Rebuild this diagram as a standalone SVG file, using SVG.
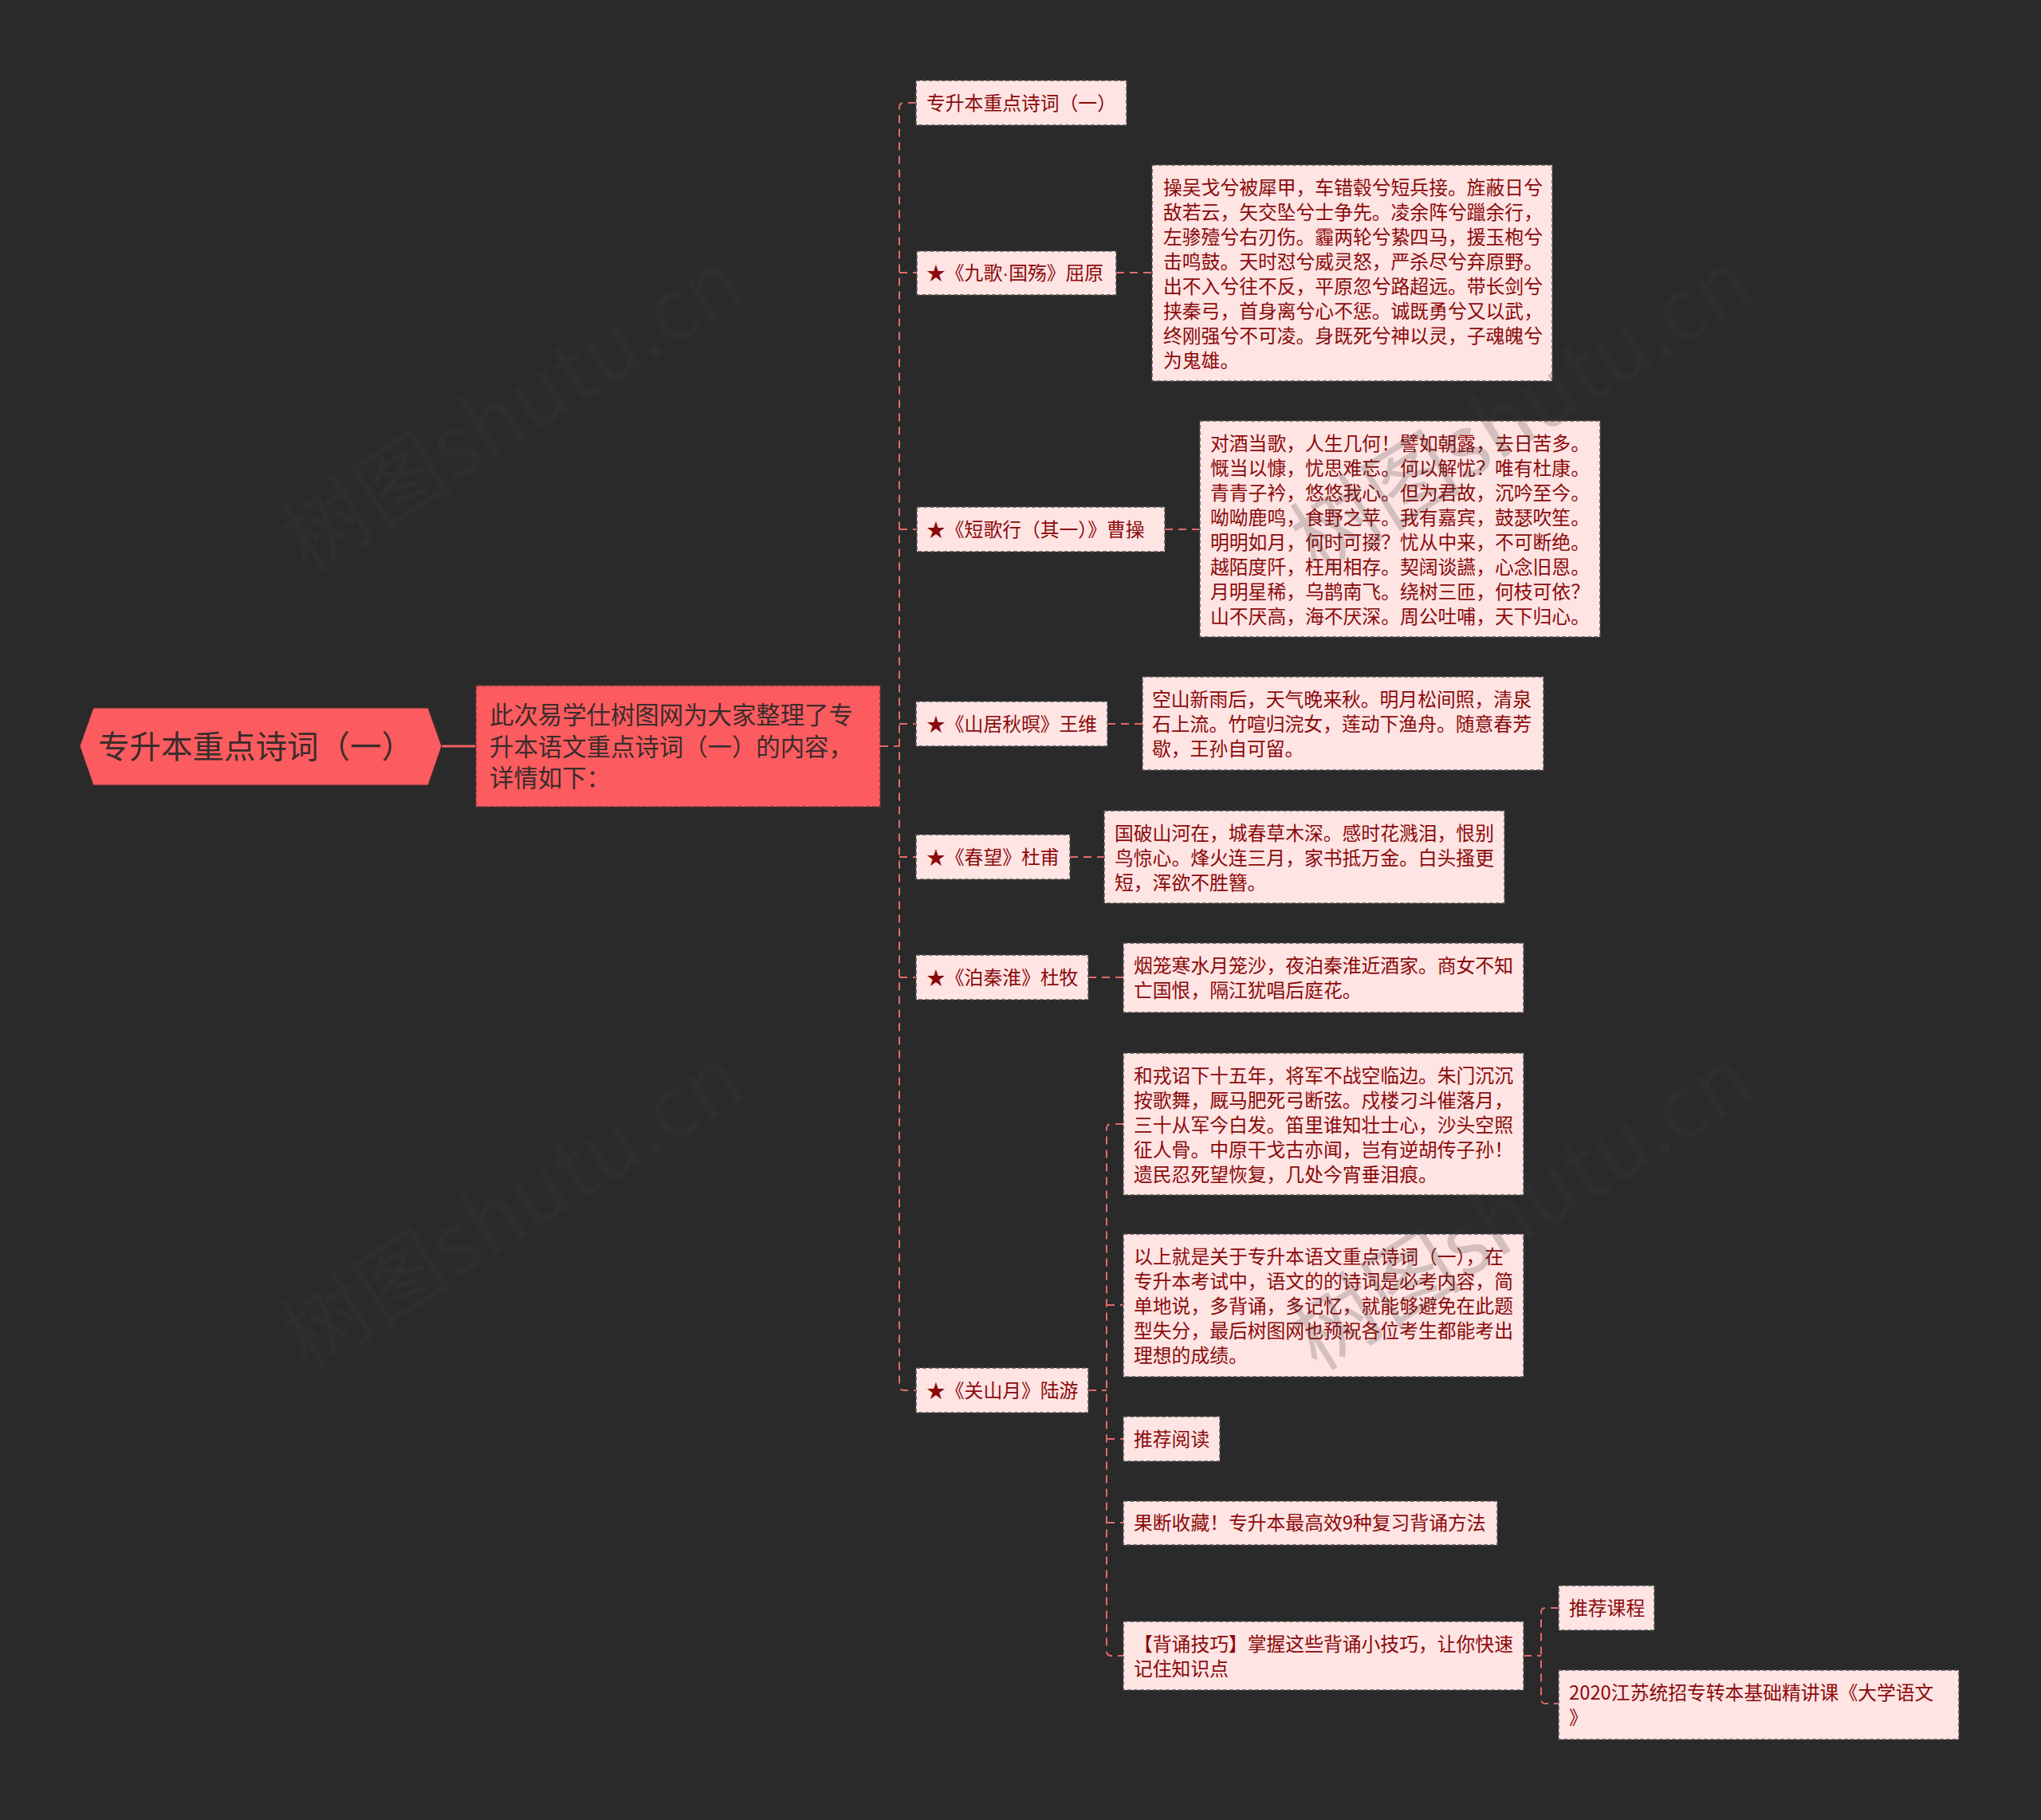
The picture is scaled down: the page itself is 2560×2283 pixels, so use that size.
<svg xmlns="http://www.w3.org/2000/svg" width="2560" height="2283" viewBox="0 0 2560 2283">
<style>
.box{fill:#ffe4e4;stroke:#5a5050;stroke-width:1.5;stroke-dasharray:5 3}
.t{fill:#8b0a0a;font-family:"Noto Sans CJK SC","Noto Sans",sans-serif;font-size:23.8px}
.conn{fill:none;stroke:#e36a6a;stroke-width:2;stroke-dasharray:10 7}
.wm{fill:#404040;opacity:0.22;font-family:"Noto Sans CJK SC","Noto Sans",sans-serif;font-size:108px}
</style>
<rect x="0" y="0" width="2560" height="2283" fill="#2a2a2a"/>
<g id="connectors">
<line x1="554" y1="936" x2="597" y2="936" stroke="#f06262" stroke-width="3"/>
<path class="conn" d="M1104 936 H1128"/>
<path class="conn" d="M1149 129 H1134 Q1128 129 1128 135 V1738 Q1128 1744 1134 1744 H1149"/>
<path class="conn" d="M1128 342 H1150 M1128 664 H1150 M1128 908 H1149 M1128 1075 H1149 M1128 1226 H1149"/>
<path class="conn" d="M1400 342 H1445 M1461 664 H1505 M1389 908 H1433 M1342 1075 H1385 M1365 1226 H1409"/>
<path class="conn" d="M1365 1744 H1388"/>
<path class="conn" d="M1409 1410 H1394 Q1388 1410 1388 1416 V2071 Q1388 2077 1394 2077 H1409"/>
<path class="conn" d="M1388 1637 H1409 M1388 1805 H1409 M1388 1910 H1409"/>
<path class="conn" d="M1911 2077 H1933"/>
<path class="conn" d="M1955 2017 H1939 Q1933 2017 1933 2023 V2131 Q1933 2137 1939 2137 H1955"/>
</g>
<g id="root">
<polygon points="100,936 117,888 537,888 554,936 537,985 117,985" fill="#fc5b5f" stroke="#3a2a2a" stroke-width="1"/>
<text x="123" y="951" fill="#3a2c2c" font-family="'Noto Sans CJK SC','Noto Sans',sans-serif" font-size="39.5px">专升本重点诗词（一）</text>
</g>
<g id="intro">
<rect x="597" y="860" width="507" height="152" fill="#fc5b5f" stroke="#6a3434" stroke-width="1.5" stroke-dasharray="5 3"/>
<text fill="#3a2c2c" font-family="'Noto Sans CJK SC','Noto Sans',sans-serif" font-size="30.4px"><tspan x="614" y="908">此次易学仕树图网为大家整理了专</tspan><tspan x="614" y="948">升本语文重点诗词（一）的内容，</tspan><tspan x="614" y="987">详情如下：</tspan></text>
</g>
<g id="n1">
<rect class="box" x="1149" y="101" width="264" height="56"/>
<text class="t" x="1162" y="138">专升本重点诗词（一）</text>
</g>
<g id="n2">
<rect class="box" x="1150" y="315" width="250" height="55"/>
<text class="t" x="1162" y="351">★《九歌<tspan font-family="'Liberation Sans',sans-serif">·</tspan>国殇》屈原</text>
</g>
<g id="n2c">
<rect class="box" x="1445" y="207" width="502" height="271"/>
<text class="t"><tspan x="1459" y="244">操吴戈兮被犀甲，车错毂兮短兵接。旌蔽日兮</tspan><tspan x="1459" y="275">敌若云，矢交坠兮士争先。凌余阵兮躐余行，</tspan><tspan x="1459" y="306">左骖殪兮右刃伤。霾两轮兮絷四马，援玉枹兮</tspan><tspan x="1459" y="337">击鸣鼓。天时怼兮威灵怒，严杀尽兮弃原野。</tspan><tspan x="1459" y="368">出不入兮往不反，平原忽兮路超远。带长剑兮</tspan><tspan x="1459" y="399">挟秦弓，首身离兮心不惩。诚既勇兮又以武，</tspan><tspan x="1459" y="430">终刚强兮不可凌。身既死兮神以灵，子魂魄兮</tspan><tspan x="1459" y="461">为鬼雄。</tspan></text>
</g>
<g id="n3">
<rect class="box" x="1150" y="636" width="311" height="56"/>
<text class="t" x="1162" y="673">★《短歌行（其一）》曹操</text>
</g>
<g id="n3c">
<rect class="box" x="1505" y="528" width="502" height="271"/>
<text class="t"><tspan x="1518" y="565">对酒当歌，人生几何！譬如朝露，去日苦多。</tspan><tspan x="1518" y="596">慨当以慷，忧思难忘。何以解忧？唯有杜康。</tspan><tspan x="1518" y="627">青青子衿，悠悠我心。但为君故，沉吟至今。</tspan><tspan x="1518" y="658">呦呦鹿鸣，食野之苹。我有嘉宾，鼓瑟吹笙。</tspan><tspan x="1518" y="689">明明如月，何时可掇？忧从中来，不可断绝。</tspan><tspan x="1518" y="720">越陌度阡，枉用相存。契阔谈讌，心念旧恩。</tspan><tspan x="1518" y="751">月明星稀，乌鹊南飞。绕树三匝，何枝可依？</tspan><tspan x="1518" y="782">山不厌高，海不厌深。周公吐哺，天下归心。</tspan></text>
</g>
<g id="n4">
<rect class="box" x="1149" y="880" width="240" height="56"/>
<text class="t" x="1162" y="917">★《山居秋暝》王维</text>
</g>
<g id="n4c">
<rect class="box" x="1433" y="849" width="503" height="117"/>
<text class="t"><tspan x="1445" y="886">空山新雨后，天气晚来秋。明月松间照，清泉</tspan><tspan x="1445" y="917">石上流。竹喧归浣女，莲动下渔舟。随意春芳</tspan><tspan x="1445" y="948">歇，王孙自可留。</tspan></text>
</g>
<g id="n5">
<rect class="box" x="1149" y="1047" width="193" height="56"/>
<text class="t" x="1162" y="1084">★《春望》杜甫</text>
</g>
<g id="n5c">
<rect class="box" x="1385" y="1017" width="502" height="116"/>
<text class="t"><tspan x="1398" y="1054">国破山河在，城春草木深。感时花溅泪，恨别</tspan><tspan x="1398" y="1085">鸟惊心。烽火连三月，家书抵万金。白头搔更</tspan><tspan x="1398" y="1116">短，浑欲不胜簪。</tspan></text>
</g>
<g id="n6">
<rect class="box" x="1149" y="1198" width="216" height="56"/>
<text class="t" x="1162" y="1235">★《泊秦淮》杜牧</text>
</g>
<g id="n6c">
<rect class="box" x="1409" y="1183" width="502" height="87"/>
<text class="t"><tspan x="1422" y="1220">烟笼寒水月笼沙，夜泊秦淮近酒家。商女不知</tspan><tspan x="1422" y="1251">亡国恨，隔江犹唱后庭花。</tspan></text>
</g>
<g id="n7">
<rect class="box" x="1149" y="1716" width="216" height="56"/>
<text class="t" x="1162" y="1753">★《关山月》陆游</text>
</g>
<g id="n7a">
<rect class="box" x="1409" y="1321" width="502" height="178"/>
<text class="t"><tspan x="1422" y="1358">和戎诏下十五年，将军不战空临边。朱门沉沉</tspan><tspan x="1422" y="1389">按歌舞，厩马肥死弓断弦。戍楼刁斗催落月，</tspan><tspan x="1422" y="1420">三十从军今白发。笛里谁知壮士心，沙头空照</tspan><tspan x="1422" y="1451">征人骨。中原干戈古亦闻，岂有逆胡传子孙！</tspan><tspan x="1422" y="1482">遗民忍死望恢复，几处今宵垂泪痕。</tspan></text>
</g>
<g id="n7b">
<rect class="box" x="1409" y="1548" width="502" height="179"/>
<text class="t"><tspan x="1422" y="1585">以上就是关于专升本语文重点诗词（一），在</tspan><tspan x="1422" y="1616">专升本考试中，语文的的诗词是必考内容，简</tspan><tspan x="1422" y="1647">单地说，多背诵，多记忆，就能够避免在此题</tspan><tspan x="1422" y="1678">型失分，最后树图网也预祝各位考生都能考出</tspan><tspan x="1422" y="1709">理想的成绩。</tspan></text>
</g>
<g id="n7c">
<rect class="box" x="1409" y="1777" width="121" height="56"/>
<text class="t" x="1422" y="1814">推荐阅读</text>
</g>
<g id="n7d">
<rect class="box" x="1409" y="1883" width="469" height="55"/>
<text class="t" x="1422" y="1919">果断收藏！专升本最高效9种复习背诵方法</text>
</g>
<g id="n7e">
<rect class="box" x="1409" y="2034" width="502" height="86"/>
<text class="t"><tspan x="1422" y="2071">【背诵技巧】掌握这些背诵小技巧，让你快速</tspan><tspan x="1422" y="2102">记住知识点</tspan></text>
</g>
<g id="n7e1">
<rect class="box" x="1955" y="1989" width="120" height="56"/>
<text class="t" x="1968" y="2026">推荐课程</text>
</g>
<g id="n7e2">
<rect class="box" x="1955" y="2095" width="502" height="87"/>
<text class="t"><tspan x="1968" y="2132">2020江苏统招专转本基础精讲课《大学语文</tspan><tspan x="1968" y="2163">》</tspan></text>
</g>
<g id="watermarks">
<text class="wm" text-anchor="middle" transform="translate(644,517) rotate(-32)" y="36">树图shutu.cn</text>
<text class="wm" text-anchor="middle" transform="translate(644,1517) rotate(-32)" y="36">树图shutu.cn</text>
<text class="wm" text-anchor="middle" transform="translate(1910,517) rotate(-32)" y="36">树图shutu.cn</text>
<text class="wm" text-anchor="middle" transform="translate(1910,1517) rotate(-32)" y="36">树图shutu.cn</text>
</g>
</svg>
